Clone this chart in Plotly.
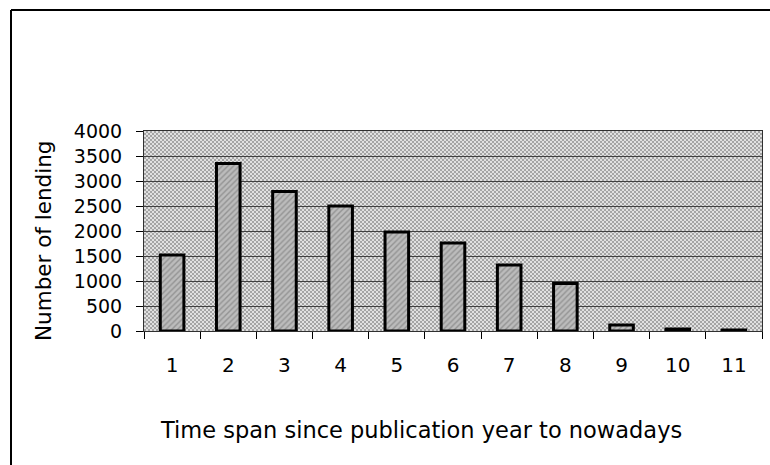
import base64
import struct
import zlib

import plotly.graph_objects as go

# Lending counts per year elapsed since publication
years = ["1", "2", "3", "4", "5", "6", "7", "8", "9", "10", "11"]
lendings = [1520, 3350, 2790, 2500, 1980, 1760, 1320, 950, 120, 40, 20]

y_ticks = [0, 500, 1000, 1500, 2000, 2500, 3000, 3500, 4000]

FONT = "DejaVu Sans"

# plot-area geometry in pixels
W, H = 770, 465
ML, MR, MT, MB = 144, 8, 131, 134
PW, PH = W - ML - MR, H - MT - MB


def checker_png(w, h, dark, light, cell=2):
    """Grey-scale checkerboard PNG used as a textured plot background."""
    raw = bytearray()
    for r in range(h):
        raw.append(0)
        for c in range(w):
            raw.append(dark if ((r // cell) + (c // cell)) % 2 else light)

    def chunk(tag, data):
        body = tag + data
        return struct.pack(">I", len(data)) + body + struct.pack(">I", zlib.crc32(body) & 0xFFFFFFFF)

    png = b"\x89PNG\r\n\x1a\n"
    png += chunk(b"IHDR", struct.pack(">IIBBBBB", w, h, 8, 0, 0, 0, 0))
    png += chunk(b"IDAT", zlib.compress(bytes(raw), 9))
    png += chunk(b"IEND", b"")
    return "data:image/png;base64," + base64.b64encode(png).decode()


fig = go.Figure()
fig.add_trace(go.Bar(
    x=years,
    y=lendings,
    width=0.42,
    marker=dict(
        color="#b0b0b0",
        line=dict(color="black", width=3),
        pattern=dict(shape="/", fgcolor="#6a6a6a", bgcolor="#bcbcbc",
                     size=4, solidity=0.35),
    ),
    showlegend=False,
))

fig.update_layout(
    width=W, height=H,
    margin=dict(l=ML, r=MR, t=MT, b=MB),
    paper_bgcolor="white",
    plot_bgcolor="rgba(0,0,0,0)",
    font=dict(family=FONT, size=19, color="black"),
    images=[dict(
        source=checker_png(PW, PH, 0xA4, 0xE0),
        xref="paper", yref="paper", x=0, y=1, sizex=1, sizey=1,
        xanchor="left", yanchor="top", sizing="stretch", layer="below",
    )],
    shapes=[
        # outer chart frame (top and left edges)
        dict(type="line", xref="paper", yref="paper",
             x0=-133 / PW, x1=1.02, y0=(331 - 10) / PH, y1=(331 - 10) / PH,
             line=dict(color="black", width=2)),
        dict(type="line", xref="paper", yref="paper",
             x0=-133 / PW, x1=-133 / PW, y0=(331 - 10) / PH, y1=-1.0,
             line=dict(color="black", width=2)),
    ],
    annotations=[
        dict(text="Number of lending", xref="paper", yref="paper",
             x=-101 / PW, y=(331 - 241) / PH, textangle=-90, showarrow=False,
             font=dict(family=FONT, size=21.5), xanchor="center", yanchor="middle"),
        dict(text="Time span since publication year to nowadays",
             xref="paper", yref="paper", x=(421 - ML) / PW, y=-(430 - 331) / PH,
             showarrow=False, font=dict(family=FONT, size=22.5),
             xanchor="center", yanchor="middle"),
    ],
)

fig.update_xaxes(
    type="category",
    tickson="boundaries",
    ticks="outside", ticklen=7, tickwidth=1, tickcolor="black",
    ticklabelstandoff=16,
    showline=True, linecolor="#303030", linewidth=1, mirror=True,
    showgrid=False,
    tickfont=dict(family=FONT, size=20),
)
fig.update_yaxes(
    range=[0, 4000],
    tickvals=y_ticks,
    ticks="outside", ticklen=7, tickwidth=1, tickcolor="black",
    ticklabelstandoff=10,
    showline=True, linecolor="#303030", linewidth=1, mirror=True,
    showgrid=True, gridcolor="#404040", gridwidth=1,
    zeroline=False,
    tickfont=dict(family=FONT, size=19),
)

fig.write_html("out.html")
